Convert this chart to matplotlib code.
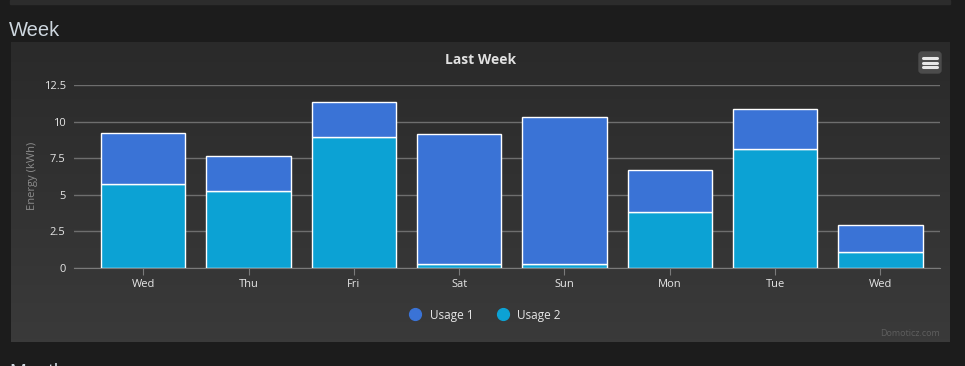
import numpy as np
import matplotlib.pyplot as plt
from matplotlib.colors import LinearSegmentedColormap
from matplotlib.patches import Rectangle, FancyBboxPatch
from matplotlib.lines import Line2D

days = ['Wed', 'Thu', 'Fri', 'Sat', 'Sun', 'Mon', 'Tue', 'Wed']
usage_2 = [5.77, 5.25, 8.99, 0.25, 0.25, 3.81, 8.13, 1.07]
usage_1 = [3.45, 2.44, 2.36, 8.91, 10.07, 2.88, 2.74, 1.85]
y_ticks = [0, 2.5, 5, 7.5, 10, 12.5]
y_labels = ['0', '2.5', '5', '7.5', '10', '12.5']

plt.rcParams['font.family'] = ['Open Sans', 'DejaVu Sans']

W, H = 965, 366
fig = plt.figure(figsize=(W / 100, H / 100), dpi=100)
fig.patch.set_facecolor('#1c1c1c')

# page background and chart panel
bg = fig.add_axes([0, 0, 1, 1])
bg.set_xlim(0, W)
bg.set_ylim(H, 0)
bg.axis('off')
bg.add_patch(Rectangle((10, 0), 940, 4, color='#2c2c2c'))
grad = np.linspace(0, 1, 100).reshape(-1, 1)
panel_cmap = LinearSegmentedColormap.from_list('panel', ['#2a2a2a', '#3a3a3a'])
bg.imshow(grad, extent=(11, 950, 342, 42), cmap=panel_cmap, aspect='auto', zorder=1)
bg.text(9, 30, 'Week', fontsize=14.5, color='#cdd6de', va='center', ha='left',
        family=['Liberation Sans', 'DejaVu Sans'])
bg.text(9, 373, 'Month', fontsize=14.5, color='#cdd6de', va='center', ha='left',
        family=['Liberation Sans', 'DejaVu Sans'])
bg.text(481, 60, 'Last Week', fontsize=10, fontweight='bold', color='#e0e0e0',
        ha='center', va='center', zorder=3)
bg.text(940, 333, 'Domoticz.com', fontsize=6.5, color='#5e5e5e',
        ha='right', va='center', zorder=3)
bg.text(32, 176, 'Energy (kWh)', fontsize=8, color='#8c8c8c', rotation=90,
        ha='center', va='center', zorder=3)
bg.add_patch(FancyBboxPatch((919, 52), 22, 21, boxstyle='round,pad=0,rounding_size=3',
                            color='#4c4c4c', zorder=3))
for yy in (58, 62.5, 67):
    bg.plot([923, 937], [yy, yy], color='#e8e8e8', lw=2.2, solid_capstyle='round', zorder=4)

# plot area
ax = fig.add_axes([74 / W, 1 - 268 / H, (940 - 74) / W, (268 - 85.3) / H])
ax.set_facecolor('none')
x = np.arange(len(days))
ax.bar(x, usage_2, width=0.8, color='#0ca2d4', edgecolor='white', linewidth=1.0, zorder=3)
ax.bar(x, usage_1, width=0.8, bottom=usage_2, color='#3a73d6', edgecolor='white',
       linewidth=1.0, zorder=3)
ax.set_xlim(-0.658, 7.566)
ax.set_ylim(0, 12.5)
ax.set_yticks(y_ticks)
ax.set_yticklabels(y_labels)
ax.set_xticks(x)
ax.set_xticklabels(days)
ax.grid(axis='y', color='#6e6e6e', linewidth=1)
ax.set_axisbelow(True)
for s in ['top', 'right', 'left']:
    ax.spines[s].set_visible(False)
ax.spines['bottom'].set_color('#7a7a7a')
ax.tick_params(axis='y', length=0, pad=6, labelsize=8, labelcolor='#e6e6e6')
ax.tick_params(axis='x', length=5, color='#7a7a7a', pad=3, labelsize=8,
               labelcolor='#e6e6e6')

handles = [Line2D([], [], marker='o', ls='', color='#3a73d6', markersize=8.5),
           Line2D([], [], marker='o', ls='', color='#0ca2d4', markersize=8.5)]
leg = fig.legend(handles, ['Usage 1', 'Usage 2'], loc='center',
                 bbox_to_anchor=(482 / W, 1 - 315 / H), ncol=2, frameon=False,
                 fontsize=8.5, labelcolor='#e6e6e6', handletextpad=0.2,
                 columnspacing=1.5)

fig.savefig('out.png', dpi=100, facecolor=fig.get_facecolor())
